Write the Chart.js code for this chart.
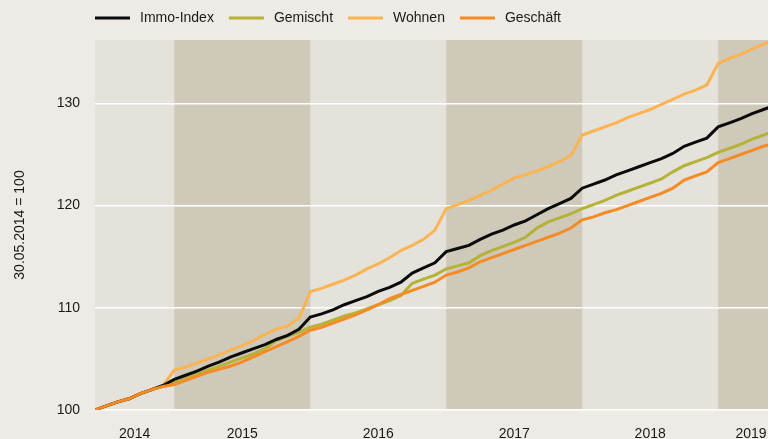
<!DOCTYPE html>
<html>
<head>
<meta charset="utf-8">
<script src="https://cdn.jsdelivr.net/npm/chart.js@4.4.1/dist/chart.umd.min.js"></script>
<style>
  html, body { margin: 0; padding: 0; background: #eeebe6; }
  #wrap { width: 768px; height: 439px; }
</style>
</head>
<body>
<div id="wrap"><canvas id="chart" width="768" height="439"></canvas></div>
<script>
// monthly values, index 0 = 30.05.2014, then month ends
var immoIndex = [100.0, 100.4, 100.8, 101.1, 101.6, 102.0, 102.4, 103.0, 103.4, 103.8,
  104.3, 104.7, 105.2, 105.6, 106.0, 106.4, 106.9, 107.3, 107.9, 109.1,
  109.4, 109.8, 110.3, 110.7, 111.1, 111.6, 112.0, 112.5, 113.4, 113.9,
  114.4, 115.5, 115.8, 116.1, 116.7, 117.2, 117.6, 118.1, 118.5, 119.1,
  119.7, 120.2, 120.7, 121.7, 122.1, 122.5, 123.0, 123.4, 123.8, 124.2,
  124.6, 125.1, 125.8, 126.2, 126.6, 127.7, 128.1, 128.5, 129.0, 129.4, 129.8];
var gemischt = [100.0, 100.4, 100.8, 101.1, 101.6, 102.0, 102.3, 102.7, 103.1, 103.5,
  103.9, 104.3, 104.7, 105.1, 105.5, 106.0, 106.8, 107.2, 107.6, 108.1,
  108.4, 108.8, 109.2, 109.5, 109.9, 110.3, 110.7, 111.2, 112.4, 112.8,
  113.2, 113.8, 114.1, 114.4, 115.1, 115.6, 116.0, 116.4, 116.9, 117.8,
  118.4, 118.8, 119.2, 119.7, 120.1, 120.5, 121.0, 121.4, 121.8, 122.2,
  122.6, 123.3, 123.9, 124.3, 124.7, 125.2, 125.6, 126.0, 126.5, 126.9, 127.3];
var wohnen = [100.0, 100.4, 100.8, 101.1, 101.6, 102.0, 102.4, 103.9, 104.2, 104.6,
  105.0, 105.4, 105.9, 106.3, 106.8, 107.4, 107.9, 108.2, 109.0, 111.6,
  111.9, 112.3, 112.7, 113.2, 113.8, 114.3, 114.9, 115.6, 116.1, 116.7,
  117.6, 119.7, 120.1, 120.5, 121.0, 121.5, 122.1, 122.7, 123.0, 123.4,
  123.8, 124.3, 124.9, 126.9, 127.3, 127.7, 128.1, 128.6, 129.0, 129.4,
  129.9, 130.4, 130.9, 131.3, 131.8, 133.9, 134.4, 134.8, 135.3, 135.8, 136.2];
var geschaeft = [100.0, 100.4, 100.8, 101.1, 101.6, 102.0, 102.3, 102.5, 102.9, 103.3,
  103.7, 104.0, 104.3, 104.7, 105.2, 105.7, 106.2, 106.7, 107.2, 107.8,
  108.1, 108.5, 108.9, 109.3, 109.8, 110.3, 110.9, 111.3, 111.7, 112.1,
  112.5, 113.2, 113.5, 113.9, 114.5, 114.9, 115.3, 115.7, 116.1, 116.5,
  116.9, 117.3, 117.8, 118.6, 118.9, 119.3, 119.6, 120.0, 120.4, 120.8,
  121.2, 121.7, 122.5, 122.9, 123.3, 124.2, 124.6, 125.0, 125.4, 125.8, 126.1];

// year labels sit in the middle of each year (in months since start)
var yearTicks = [3.5, 13, 25, 37, 49, 57.9];
var yearLabels = ['2014', '2015', '2016', '2017', '2018', '2019'];
var yTicks = [100, 110, 120, 130];
// shaded years: 2015, 2017, 2019
var shadedMonths = [[7, 19], [31, 43], [55, 67]];

function pts(arr) {
  return arr.map(function (v, i) { return { x: i, y: v }; });
}

var FONT = '"Liberation Sans", Arial, sans-serif';

var backdrop = {
  id: 'backdrop',
  beforeDraw: function (chart) {
    var ctx = chart.ctx, a = chart.chartArea, xs = chart.scales.x;
    ctx.save();
    ctx.fillStyle = '#e4e2da';
    ctx.fillRect(a.left, a.top, a.right - a.left, a.bottom - a.top);
    ctx.fillStyle = '#cfc9b9';
    shadedMonths.forEach(function (b) {
      var x1 = Math.max(a.left, xs.getPixelForValue(b[0]));
      var x2 = Math.min(a.right, xs.getPixelForValue(b[1]));
      if (x2 > x1) ctx.fillRect(x1, a.top, x2 - x1, a.bottom - a.top);
    });
    ctx.restore();
  }
};

// legend drawn by hand so it can start at the plot's left edge
var topLegend = {
  id: 'topLegend',
  afterDraw: function (chart) {
    var ctx = chart.ctx;
    var x = chart.chartArea.left, y = 18;
    ctx.save();
    ctx.font = '14px ' + FONT;
    ctx.textBaseline = 'middle';
    chart.data.datasets.forEach(function (ds) {
      ctx.strokeStyle = ds.borderColor;
      ctx.lineWidth = 3;
      ctx.beginPath();
      ctx.moveTo(x, y);
      ctx.lineTo(x + 35, y);
      ctx.stroke();
      ctx.fillStyle = '#1a1a1a';
      ctx.fillText(ds.label, x + 45, y);
      x += 45 + ctx.measureText(ds.label).width + 15;
    });
    ctx.restore();
  }
};

var ctx = document.getElementById('chart');
new Chart(ctx, {
  type: 'line',
  data: {
    datasets: [
      { label: 'Immo-Index', data: pts(immoIndex), borderColor: '#0b0b0b', order: 2 },
      { label: 'Gemischt', data: pts(gemischt), borderColor: '#b5b23a', order: 3 },
      { label: 'Wohnen', data: pts(wohnen), borderColor: '#fbb451', order: 4 },
      { label: 'Geschäft', data: pts(geschaeft), borderColor: '#f58b24', order: 1 }
    ]
  },
  options: {
    responsive: false,
    animation: false,
    layout: { padding: { top: 40, right: 0, left: 0, bottom: 0 } },
    elements: {
      line: { borderWidth: 3, tension: 0, fill: false },
      point: { radius: 0 }
    },
    plugins: {
      legend: { display: false },
      tooltip: { enabled: false }
    },
    scales: {
      x: {
        type: 'linear',
        min: 0,
        max: 59.4,
        afterBuildTicks: function (s) { s.ticks = yearTicks.map(function (v) { return { value: v }; }); },
        afterFit: function (s) { s.height = 29; s.paddingLeft = 0; s.paddingRight = 0; },
        grid: { display: false },
        border: { display: false },
        ticks: {
          autoSkip: false,
          maxRotation: 0,
          padding: 8,
          color: '#1a1a1a',
          font: { family: FONT, size: 14 },
          callback: function (v, i) { return yearLabels[i]; }
        }
      },
      y: {
        min: 100,
        max: 136.2,
        afterBuildTicks: function (s) { s.ticks = yTicks.map(function (v) { return { value: v }; }); },
        afterFit: function (s) { s.width = 95; },
        grid: { color: '#ffffff', lineWidth: 1.5, drawTicks: false },
        border: { display: false },
        ticks: {
          padding: 15,
          color: '#1a1a1a',
          font: { family: FONT, size: 14 }
        },
        title: {
          display: true,
          text: '30.05.2014 = 100',
          color: '#1a1a1a',
          font: { family: FONT, size: 14 },
          padding: { top: 12, bottom: 0 }
        }
      }
    }
  },
  plugins: [backdrop, topLegend]
});
</script>
</body>
</html>
